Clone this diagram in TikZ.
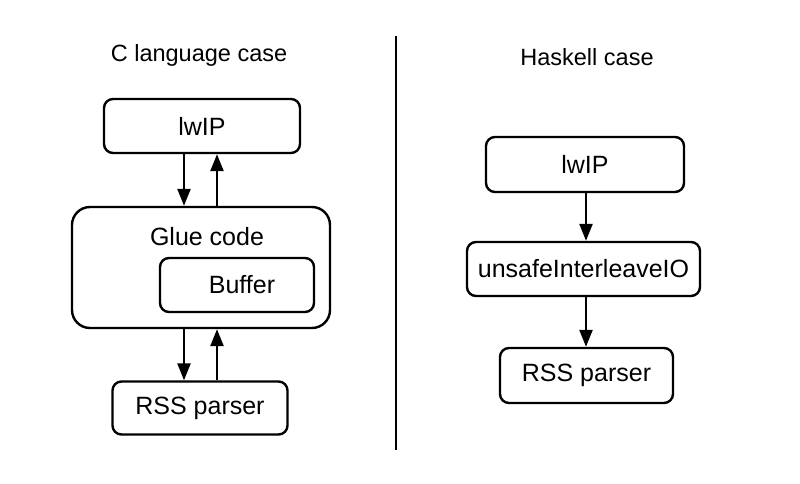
\documentclass[tikz,border=0pt]{standalone}
\usepackage{fontspec}
\setmainfont{Liberation Sans}
\usetikzlibrary{arrows.meta}
\begin{document}
\begin{tikzpicture}[x=1pt,y=-1pt,
  box/.style={draw,line width=2.4pt,rounded corners=9pt,inner sep=0pt,font=\fontsize{25}{28}\selectfont},
  title/.style={font=\fontsize{23.5}{26}\selectfont,inner sep=0pt},
  arr/.style={line width=2.4pt,-{Triangle[length=17pt,width=13pt]}}]
\useasboundingbox (0,0) rectangle (800,484);
% titles
\node[title] (tC) at (199,55) {C language case};
\node[title] (tH) at (587,57) {Haskell case};
% divider
\coordinate (dT) at (396,36);
\coordinate (dB) at (396,450);
\draw[line width=1.8pt] (dT) -- (dB);
% left
\node[box,minimum width=196pt,minimum height=54pt] (lwL) at (202,126) {lwIP};
\node[box,rounded corners=18pt,minimum width=258pt,minimum height=121pt] (glue) at (201,267.5) {};
\node[font=\fontsize{25}{28}\selectfont,inner sep=0pt] (gluetxt) at (207,237) {Glue code};
\node[box,minimum width=154pt,minimum height=54pt] (buf) at (237,285) {\hspace*{10pt}Buffer};
\node[box,minimum width=175pt,minimum height=53pt] (rssL) at (200,408) {RSS parser};
\coordinate (xd) at (184,0);
\coordinate (xu) at (217,0);
\draw[arr] (lwL.south -| xd) -- (glue.north -| xd);
\draw[arr] (glue.north -| xu) -- (lwL.south -| xu);
\draw[arr] (glue.south -| xd) -- (rssL.north -| xd);
\draw[arr] (rssL.north -| xu) -- (glue.south -| xu);
% right
\node[box,minimum width=198pt,minimum height=55pt] (lwR) at (585,164.5) {lwIP};
\node[box,minimum width=233pt,minimum height=54pt] (uio) at (583.5,269) {unsafeInterleaveIO};
\node[box,minimum width=173pt,minimum height=55pt] (rssR) at (586.5,375.5) {RSS parser};
\coordinate (xr) at (586,0);
\draw[arr] (lwR.south -| xr) -- (uio.north -| xr);
\draw[arr] (uio.south -| xr) -- (rssR.north -| xr);
\end{tikzpicture}
\end{document}
